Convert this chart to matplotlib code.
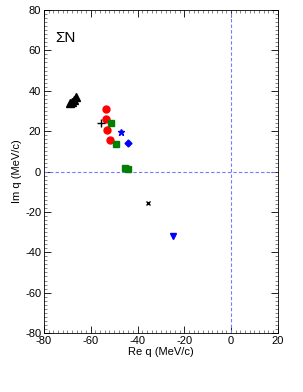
import matplotlib
matplotlib.use("Agg")
import matplotlib.pyplot as plt
from matplotlib.ticker import MultipleLocator

plt.rcParams['font.family'] = ['Liberation Sans', 'DejaVu Sans']
plt.rcParams['axes.unicode_minus'] = False

# pole positions (Re q, Im q) in MeV/c, grouped by marker
tri_re = [-68.8, -68.0, -67.0, -66.2]
tri_im = [33.9, 34.4, 35.4, 36.9]
circ_re = [-53.3, -53.3, -53.0, -51.6]
circ_im = [30.9, 25.8, 20.7, 15.6]
sq_re = [-51.3, -49.3, -45.3, -43.9]
sq_im = [24.2, 13.6, 1.6, 1.1]
plus_re, plus_im = [-55.4], [24.2]
star_re, star_im = [-46.9], [19.7]
diam_re, diam_im = [-44.2], [14.0]
x_re, x_im = [-35.5], [-15.4]
dtri_re, dtri_im = [-24.9], [-31.8]

fig = plt.figure(figsize=(3.03, 3.92), dpi=100)
ax = fig.add_axes([0.145, 0.1505, 0.772, 0.824])

ax.axhline(0, color='#7777ff', lw=0.8, ls=(0, (3, 2)))
ax.axvline(0, color='#7777ff', lw=0.8, ls=(0, (3, 2)))

ax.plot(tri_re, tri_im, '^', color='black', ms=5.5, ls='none')
ax.plot(circ_re, circ_im, 'o', color='red', ms=5, ls='none')
ax.plot(sq_re, sq_im, 's', color='green', ms=4.5, ls='none')
ax.plot(plus_re, plus_im, '+', color='black', ms=6, mew=1, ls='none')
ax.plot(star_re, star_im, '*', color='blue', ms=5, ls='none')
ax.plot(diam_re, diam_im, 'D', color='blue', ms=3.5, ls='none')
ax.plot(x_re, x_im, 'x', color='black', ms=3.5, mew=1, ls='none')
ax.plot(dtri_re, dtri_im, 'v', color='blue', ms=5, ls='none')

ax.text(-75, 64, 'ΣN', fontsize=11)

ax.set_xlim(-80, 20)
ax.set_ylim(-80, 80)
ax.xaxis.set_major_locator(MultipleLocator(20))
ax.xaxis.set_minor_locator(MultipleLocator(2))
ax.yaxis.set_major_locator(MultipleLocator(20))
ax.yaxis.set_minor_locator(MultipleLocator(2))
ax.tick_params(which='both', direction='in', top=True, right=True, labelsize=8, pad=2)
ax.tick_params(which='major', length=5, width=0.6)
ax.tick_params(which='minor', length=2.5, width=0.5, color='#555555')
for s in ax.spines.values():
    s.set_linewidth(0.6)

ax.set_xlabel('Re q (MeV/c)', fontsize=8, labelpad=1)
ax.set_ylabel('Im q (MeV/c)', fontsize=8, labelpad=2)

fig.savefig('out.png', dpi=100)
